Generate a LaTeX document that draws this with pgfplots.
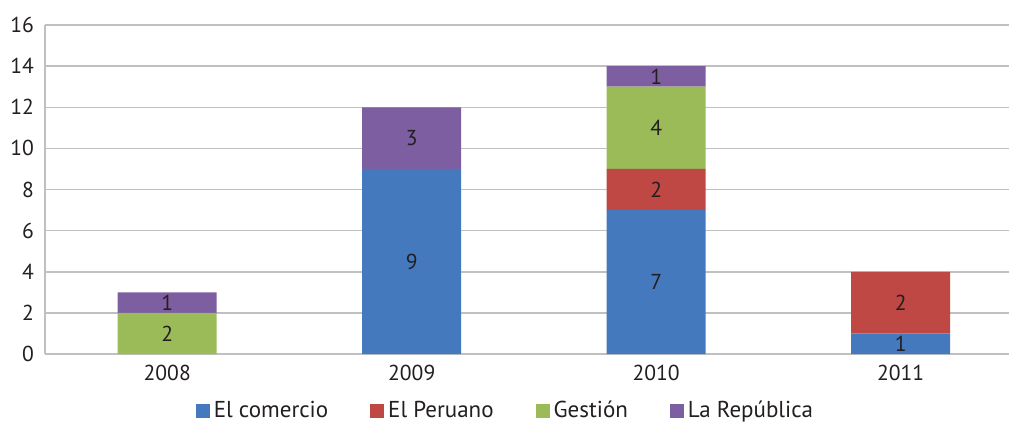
\documentclass[border=0pt]{standalone}
\usepackage{pgfplots}
\pgfplotsset{compat=1.18}
\usepackage{pgfplotstable}
\usepackage{fontspec}
\setmainfont{PT Sans}
\definecolor{cblue}{HTML}{4479BD}
\definecolor{cred}{HTML}{BF4744}
\definecolor{cgreen}{HTML}{9BBB59}
\definecolor{cpurple}{HTML}{7D5EA0}
\definecolor{cgrid}{HTML}{C0C0C0}
\definecolor{ctext}{HTML}{231F20}

\pgfplotstableread{
x y
0 0
1 9
2 7
3 1
}\comercio
\pgfplotstableread{
x y
0 0
1 0
2 2
3 3
}\peruano
\pgfplotstableread{
x y
0 2
1 0
2 4
3 0
}\gestion
\pgfplotstableread{
x y
0 1
1 3
2 1
3 0
}\republica
% segment labels at the middle of each segment
\pgfplotstableread{
x ymid lab
0 1 2
0 2.5 1
1 4.5 9
1 10.5 3
2 3.5 7
2 8 2
2 11 4
2 13.5 1
3 0.5 1
3 2.5 2
}\labels

\pgfplotsset{common/.style={
  at={(0,0)}, anchor=south west,
  scale only axis,
  width=482pt, height=164.5pt,
  xmin=-0.5, xmax=3.443,
  ymin=0, ymax=16,
}}

\begin{document}
\begin{tikzpicture}[font=\fontsize{10.8}{13}\selectfont, text=ctext]
\useasboundingbox (-22.5pt,-35pt) rectangle (482pt,177pt);
\begin{axis}[
  common,
  ybar stacked,
  bar width=49.5pt,
  ytick={0,2,...,16},
  xtick={0,1,2,3},
  xticklabels={2008,2009,2010,2011},
  /pgf/number format/assume math mode=true,
  axis x line*=bottom, axis y line*=left,
  axis line style={cgrid, line width=0.75pt},
  x axis line style={-}, y axis line style={-},
  major tick length=0pt,
  ymajorgrids,
  grid style={cgrid, line width=0.75pt},
  xticklabel style={yshift=-2pt, text=ctext},
  yticklabel style={xshift=-2pt, text=ctext},
  legend style={at={(axis description cs:0.4787,-0.173)}, anchor=center,
    draw=none, legend columns=4, /tikz/every even column/.append style={column sep=19pt},
    font=\fontsize{11.5}{13}\selectfont},
  legend image code/.code={\fill[#1] (0pt,-3.5pt) rectangle (7pt,3.5pt);},
  clip=false,
]
\addplot[fill=cblue, draw=none] table[x=x, y=y] {\comercio};
\addplot[fill=cred, draw=none] table[x=x, y=y] {\peruano};
\addplot[fill=cgreen, draw=none] table[x=x, y=y] {\gestion};
\addplot[fill=cpurple, draw=none] table[x=x, y=y] {\republica};
\legend{El comercio, El Peruano, Gestión, La República}
\end{axis}
\begin{axis}[
  common,
  axis lines=none,
  clip=false,
]
\addplot[only marks, mark=none, point meta=explicit symbolic,
  nodes near coords={\pgfplotspointmeta},
  every node near coord/.append style={anchor=center, text=ctext, font=\fontsize{10.8}{13}\selectfont}]
  table[x=x, y=ymid, meta=lab] {\labels};
\end{axis}
\end{tikzpicture}
\end{document}
